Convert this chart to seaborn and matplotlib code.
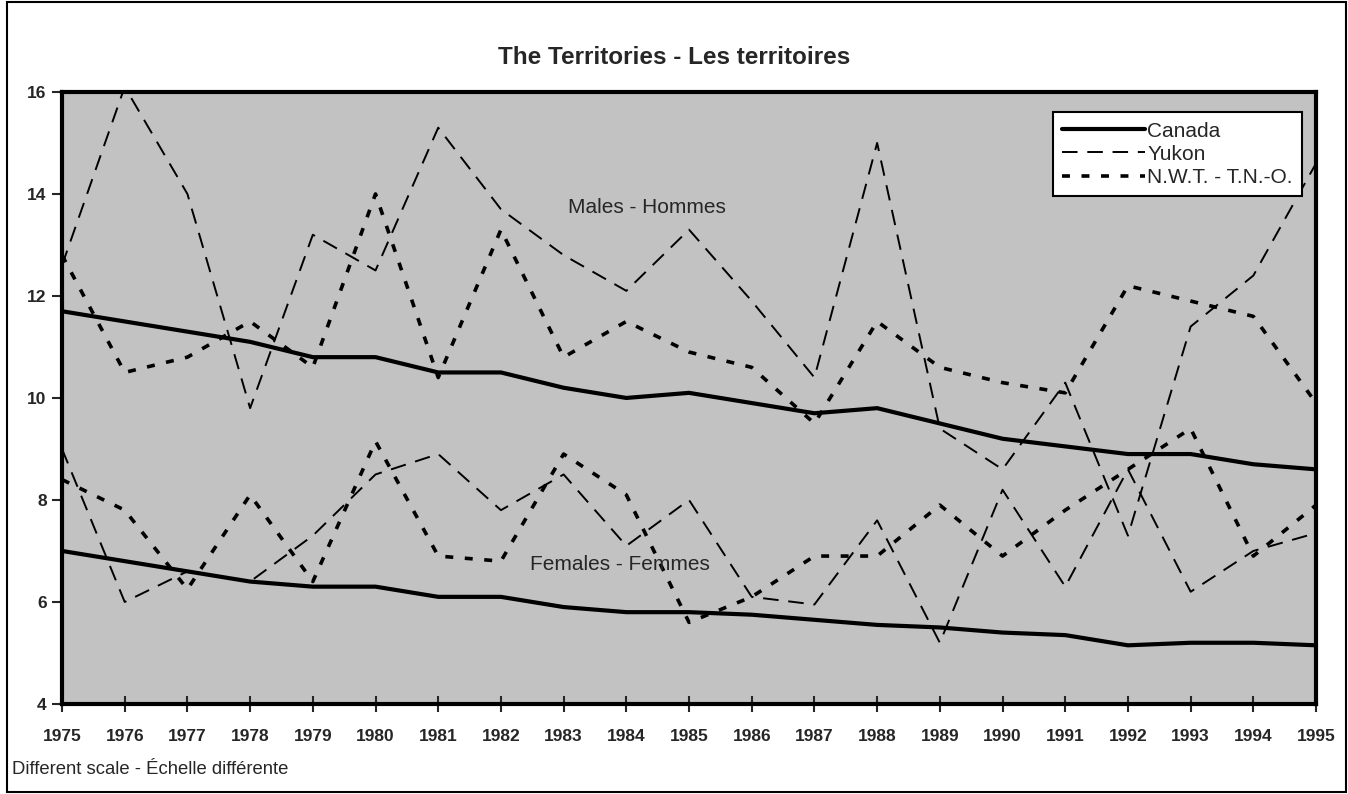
import matplotlib
matplotlib.use('Agg')
import matplotlib.pyplot as plt
import numpy as np
import pandas as pd
import seaborn as sns
from matplotlib.lines import Line2D
from matplotlib.patches import Rectangle

years = list(range(1975, 1996))

canada_m = [11.7, 11.5, 11.3, 11.1, 10.8, 10.8, 10.5, 10.5, 10.2, 10.0, 10.1,
            9.9, 9.7, 9.8, 9.5, 9.2, 9.05, 8.9, 8.9, 8.7, 8.6]
yukon_m = [12.6, 16.1, 14.0, 9.8, 13.2, 12.5, 15.3, 13.7, 12.8, 12.1, 13.3,
           11.9, 10.4, 15.0, 9.4, 8.6, 10.3, 7.3, 11.4, 12.4, 14.6]
nwt_m = [12.8, 10.5, 10.8, 11.5, 10.6, 14.0, 10.4, 13.3, 10.8, 11.5, 10.9,
         10.6, 9.5, 11.5, 10.6, 10.3, 10.1, 12.2, 11.9, 11.6, 9.9]

canada_f = [7.0, 6.8, 6.6, 6.4, 6.3, 6.3, 6.1, 6.1, 5.9, 5.8, 5.8,
            5.75, 5.65, 5.55, 5.5, 5.4, 5.35, 5.15, 5.2, 5.2, 5.15]
yukon_f = [9.0, 6.0, 6.6, 6.4, 7.3, 8.5, 8.9, 7.8, 8.5, 7.1, 8.0,
           6.1, 5.95, 7.6, 5.2, 8.2, 6.3, 8.6, 6.2, 7.0, 7.35]
nwt_f = [8.4, 7.8, 6.25, 8.1, 6.4, 9.15, 6.9, 6.8, 8.9, 8.1, 5.6,
         6.1, 6.9, 6.9, 7.9, 6.9, 7.8, 8.6, 9.4, 6.9, 7.9]

regions = ['Canada', 'Yukon', 'N.W.T. - T.N.-O.']
title = 'The Territories - Les territoires'
note = 'Different scale - Échelle différente'

sns.set_theme(style='white')
plt.rcParams['font.family'] = ['Liberation Sans', 'DejaVu Sans']

rows = []
for reg, m, f in zip(regions, [canada_m, yukon_m, nwt_m], [canada_f, yukon_f, nwt_f]):
    for y, v in zip(years, m):
        rows.append((y, v, reg, 'M'))
    for y, v in zip(years, f):
        rows.append((y, v, reg, 'F'))
df = pd.DataFrame(rows, columns=['year', 'rate', 'region', 'sex'])

styles = {
    'Canada': dict(lw=3.0, ls='-'),
    'Yukon': dict(lw=1.4, ls=(0, (8, 5))),
    'N.W.T. - T.N.-O.': dict(lw=2.6, ls=(0, (2.2, 3.2))),
}

fig = plt.figure(figsize=(13.48, 7.94), dpi=100)
ax = fig.add_axes([0.046, 0.1134, 0.9303, 0.7708])
ax.set_facecolor('#c2c2c2')

for reg in regions:
    for sex in ['M', 'F']:
        d = df[(df.region == reg) & (df.sex == sex)]
        sns.lineplot(data=d, x='year', y='rate', ax=ax, color='black',
                     linewidth=styles[reg]['lw'], linestyle=styles[reg]['ls'],
                     estimator=None)

ax.set_xlim(1975, 1995)
ax.set_ylim(4, 16)
ax.set_xticks(years)
ax.set_yticks(range(4, 17, 2))
ax.set_xlabel('')
ax.set_ylabel('')
for s in ax.spines.values():
    s.set_color('black')
    s.set_linewidth(3)
ax.tick_params(axis='x', direction='inout', length=12, width=1.5, pad=12,
               labelsize=12.5, bottom=True)
ax.tick_params(axis='y', direction='out', length=7, width=1.5, pad=4,
               labelsize=12.5, left=True)
for lab in ax.get_xticklabels() + ax.get_yticklabels():
    lab.set_fontweight('bold')

ax.text(1984.33, 13.73, 'Males - Hommes', ha='center', va='center', fontsize=15)
ax.text(1983.9, 6.73, 'Females - Femmes', ha='center', va='center', fontsize=15)

# legend box a bit wider on the left like the original
handles = [Line2D([], [], color='black', lw=styles[r]['lw'], ls=styles[r]['ls']) for r in regions]
leg = ax.legend(handles, regions, loc='upper right', bbox_to_anchor=(0.989, 0.967),
                borderaxespad=0, fontsize=15, handlelength=4.0, handletextpad=0.1,
                labelspacing=0.2, fancybox=False, framealpha=1, borderpad=0.45)
leg.get_frame().set_edgecolor('black')
leg.get_frame().set_linewidth(1.5)

fig.text(0.5, 0.927, title, ha='center', va='center', fontsize=17.5, fontweight='bold')
fig.text(0.009, 0.031, note, ha='left', va='center', fontsize=13.3)
fig.patches.append(Rectangle((0.0052, 0.002), 0.9935, 0.996, transform=fig.transFigure,
                             fill=False, lw=1.5, edgecolor='black'))

fig.savefig('out.png', dpi=100)
